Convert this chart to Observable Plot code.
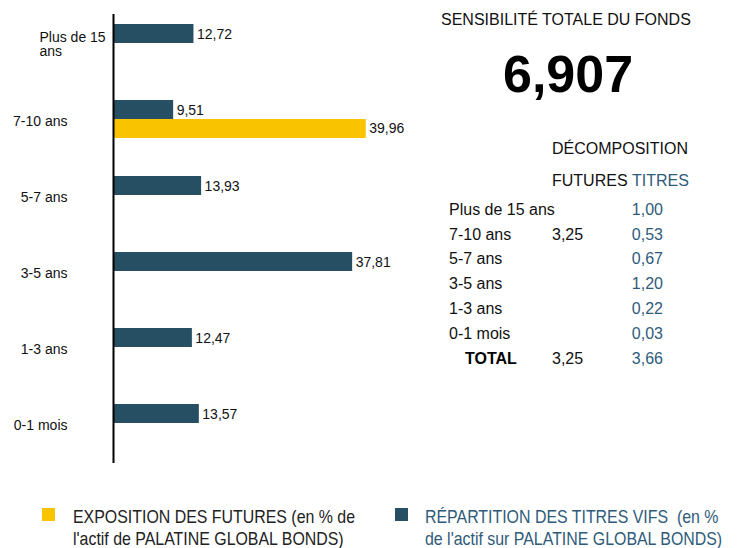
<!DOCTYPE html>
<html><head><meta charset="utf-8">
<script src="https://cdn.jsdelivr.net/npm/d3@7"></script>
<script src="https://cdn.jsdelivr.net/npm/@observablehq/plot@0.6"></script>
<style>
body{margin:0;background:#fff;font-family:"Liberation Sans",Arial,sans-serif;color:#111;}
#wrap{position:relative;width:745px;height:548px;overflow:hidden;}
#chart{position:absolute;left:0;top:0;}
.abs{position:absolute;white-space:pre;line-height:20px;font-size:16px;}
.blue{color:#2f5b7a;}
.leg{position:absolute;white-space:pre;line-height:22px;font-family:"Liberation Sans",Arial,sans-serif;font-size:18.5px;top:506px;transform:scaleX(0.86);transform-origin:0 0;}
.sq{position:absolute;width:13px;height:13px;top:508px;}
</style></head><body>
<div id="wrap"><div id="chart"></div></div>
<script>
// ---- data ----
const categories = ["Plus de 15 ans", "7-10 ans", "5-7 ans", "3-5 ans", "1-3 ans", "0-1 mois"];
const titres = [12.72, 9.51, 13.93, 37.81, 12.47, 13.57];
const futures = [null, 39.96, null, null, null, null];
const sensiTotale = 6.907;
const sensiFutures = [null, 3.25, null, null, null, null];
const sensiTitres = [1.00, 0.53, 0.67, 1.20, 0.22, 0.03];
const totalFutures = 3.25;
const totalTitres = 3.66;
const legendFutures = "EXPOSITION DES FUTURES (en % de\nl'actif de PALATINE GLOBAL BONDS)";
const legendTitres = "RÉPARTITION DES TITRES VIFS  (en %\nde l'actif sur PALATINE GLOBAL BONDS)";

const DARK = "#264f64";
const YELLOW = "#f9c300";
const fmt = v => v.toFixed(2).replace(".", ",");

const titresData = categories.map((c, i) => ({cat: c, value: titres[i]}));
const futuresData = categories.map((c, i) => ({cat: c, value: futures[i]})).filter(d => d.value != null);

const chart = Plot.plot({
  width: 745, height: 470,
  marginTop: 14, marginBottom: 7, marginLeft: 113, marginRight: 0,
  x: {domain: [0, 40], range: [113, 366], axis: null},
  y: {domain: categories, range: [5, 461], padding: 0, axis: null},
  style: {fontFamily: "'Liberation Sans', Arial, sans-serif", fontSize: "14px", color: "#111", background: "transparent"},
  marks: [
    Plot.barX(titresData, {y: "cat", x: "value", fill: DARK, insetTop: 19, insetBottom: 38}),
    Plot.barX(futuresData, {y: "cat", x: "value", fill: YELLOW, insetTop: 38, insetBottom: 19}),
    Plot.text(titresData, {y: "cat", x: "value", text: d => fmt(d.value), dx: 3, dy: -9, textAnchor: "start", fontSize: 14, fill: "#111"}),
    Plot.text(futuresData, {y: "cat", x: "value", text: d => fmt(d.value), dx: 3, dy: 9.5, textAnchor: "start", fontSize: 14, fill: "#111"}),
    Plot.axisY(categories.slice(1), {anchor: "left", tickSize: 0, tickPadding: 46, fontSize: 14, dy: 2, label: null}),
    Plot.axisY(categories.slice(0, 1), {anchor: "left", tickSize: 0, tickPadding: 74, textAnchor: "start", tickFormat: () => "Plus de 15\nans", lineHeight: 1.0, fontSize: 14, dy: 1, label: null}),
    Plot.ruleX([0], {stroke: "#000", strokeWidth: 2})
  ]
});
document.getElementById("chart").appendChild(chart);

// ---- right panel & legend (HTML text) ----
const wrap = document.getElementById("wrap");
function add(txt, css, cls = "abs") {
  const d = document.createElement("div");
  d.className = cls;
  d.textContent = txt;
  Object.assign(d.style, css);
  wrap.appendChild(d);
  return d;
}
add("SENSIBILITÉ TOTALE DU FONDS", {left: "441px", top: "10px"});
add(sensiTotale.toFixed(3).replace(".", ","), {left: "503px", top: "44px", fontSize: "52px", lineHeight: "60px", fontWeight: "bold", color: "#000"});
add("DÉCOMPOSITION", {left: "552px", top: "139px"});
add("FUTURES", {left: "552px", top: "171px"});
add("TITRES", {left: "632px", top: "171px"}).classList.add("blue");
const rowY = [210, 235, 259, 284, 309, 334];
categories.forEach((c, i) => {
  add(c, {left: "449px", top: (rowY[i] - 10) + "px"});
  if (sensiFutures[i] != null) add(fmt(sensiFutures[i]), {left: "552px", top: (rowY[i] - 10) + "px"});
  add(fmt(sensiTitres[i]), {left: "583px", width: "80px", textAlign: "right", top: (rowY[i] - 10) + "px"}).classList.add("blue");
});
add("TOTAL", {left: "465px", top: "349px", fontWeight: "bold", color: "#000"});
add(fmt(totalFutures), {left: "552px", top: "349px"});
add(fmt(totalTitres), {left: "583px", width: "80px", textAlign: "right", top: "349px"}).classList.add("blue");

add("", {left: "42px", background: YELLOW}, "sq");
add(legendFutures, {left: "73px", color: "#222"}, "leg");
add("", {left: "395px", background: DARK}, "sq");
add(legendTitres, {left: "425px", color: "#2f5b7a"}, "leg");
</script>
</body></html>
